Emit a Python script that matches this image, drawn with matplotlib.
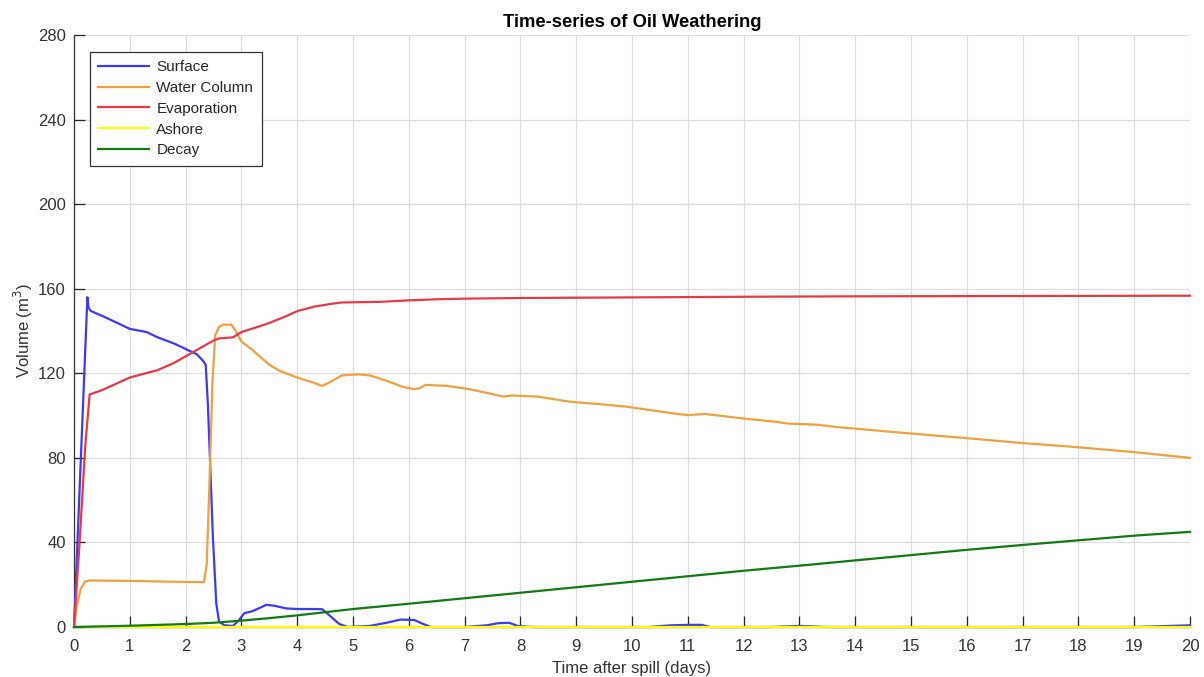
import matplotlib
matplotlib.use("Agg")
import matplotlib.pyplot as plt

plt.rcParams['font.family'] = ['Liberation Sans', 'DejaVu Sans']

# ---- data ----
t_surface = [0, 0.1, 0.2, 0.24, 0.26, 0.3, 0.6, 1.0, 1.3, 1.5, 1.8, 2.0, 2.2, 2.31, 2.36, 2.4, 2.49,
             2.55, 2.6, 2.7, 2.85, 2.95, 3.05, 3.2, 3.45, 3.6, 3.8, 4.0, 4.3, 4.45, 4.6, 4.75, 4.9,
             5.3, 5.6, 5.85, 6.1, 6.25, 6.4, 7.0, 7.4, 7.6, 7.8, 7.95, 8.2, 10.3, 10.7, 11.0, 11.25,
             11.4, 12.5, 13.0, 13.5, 19.0, 19.5, 20]
v_surface = [0, 65, 130, 156, 151, 149.5, 146, 141, 139.5, 137, 134, 131.5, 129, 126, 124, 105, 42,
             11, 2.4, 0.8, 0.5, 3, 6.5, 7.5, 10.5, 10, 8.8, 8.5, 8.5, 8.4, 5, 1.5, 0,
             0.5, 2, 3.5, 3.3, 1.5, 0, 0, 0.8, 1.8, 2, 0.5, 0, 0, 0.8, 1, 1,
             0, 0, 0.5, 0, 0, 0.4, 0.8]

t_water = [0, 0.05, 0.12, 0.2, 0.28, 1.0, 2.0, 2.33, 2.38, 2.43, 2.48, 2.53, 2.6, 2.68, 2.82, 2.9,
           3.0, 3.2, 3.5, 3.7, 4.0, 4.3, 4.45, 4.6, 4.8, 5.1, 5.3, 5.6, 5.9, 6.1, 6.2, 6.3, 6.7,
           7.1, 7.7, 7.85, 8.3, 8.9, 9.6, 9.9, 10.8, 11.0, 11.3, 12.0, 12.6, 12.8, 13.3, 13.7,
           15, 16, 17, 18, 19, 20]
v_water = [0, 10, 18, 21.5, 22, 21.8, 21.3, 21.2, 30, 70, 115, 138, 142, 143, 143, 140,
           135, 131, 124, 121, 118, 115.5, 114, 116, 119, 119.5, 119, 116.5, 113.5, 112.5, 113, 114.5, 114,
           112.4, 109, 109.5, 109, 106.5, 105, 104.2, 100.8, 100.2, 100.8, 98.6, 97, 96.2, 95.7, 94.5,
           91.5, 89.3, 87, 85, 82.7, 80]

t_evap = [0, 0.1, 0.2, 0.28, 0.5, 1.0, 1.5, 1.8, 2.0, 2.3, 2.5, 2.6, 2.85, 3.0, 3.3, 3.5, 3.8, 4.0,
          4.3, 4.6, 4.8, 5.5, 6.0, 6.5, 7, 8, 10, 12, 14, 16, 18, 20]
v_evap = [0, 40, 85, 110, 112, 118, 121.5, 125, 128, 132.5, 135.5, 136.5, 137, 139.5, 142, 143.8,
          147, 149.4, 151.5, 152.8, 153.5, 153.8, 154.5, 155, 155.3, 155.6, 155.9, 156.2, 156.4,
          156.5, 156.6, 156.7]

t_ashore = [0, 20]
v_ashore = [0, 0]

t_decay = [0, 1, 2, 2.5, 3, 3.5, 4, 5, 6, 7, 8, 9, 10, 11, 12, 13, 14, 15, 16, 17, 18, 19, 20]
v_decay = [0, 0.6, 1.4, 2, 3, 4.2, 5.5, 8.5, 11, 13.6, 16.2, 18.8, 21.4, 24, 26.6, 29, 31.5, 34,
           36.5, 38.8, 41, 43.2, 45]

series_labels = ['Surface', 'Water Column', 'Evaporation', 'Ashore', 'Decay']
x_ticks = list(range(0, 21))
y_ticks = list(range(0, 281, 40))

# ---- figure ----
fig = plt.figure(figsize=(12.04, 6.77), dpi=100)
ax = fig.add_axes([74 / 1204, 1 - 627 / 677, (1190 - 74) / 1204, (627 - 35) / 677])

txt = '#262626'
lw = 1.6
common = dict(lw=lw, zorder=3, clip_on=False)
ax.plot(t_surface, v_surface, color='#3b3bf5', label=series_labels[0], **common)
ax.plot(t_water, v_water, color='#f0a040', label=series_labels[1], **common)
ax.plot(t_evap, v_evap, color='#e93848', label=series_labels[2], **common)
ax.plot(t_ashore, v_ashore, color='#ffff00', label=series_labels[3], **common)
ax.plot(t_decay, v_decay, color='#127a12', label=series_labels[4], **common)

ax.set_xlim(0, 20)
ax.set_ylim(0, 280)
ax.set_xticks(x_ticks)
ax.set_yticks(y_ticks)
ax.tick_params(direction='in', length=8, width=0.9, colors=txt, labelsize=12, labelcolor='#333333')
ax.tick_params(axis='x', pad=8.5)
ax.tick_params(axis='y', pad=6)
ax.grid(True, color='#dedede', lw=0.9)
ax.set_axisbelow(True)
for s in ['top', 'right']:
    ax.spines[s].set_visible(False)
for s in ['left', 'bottom']:
    ax.spines[s].set_color('#333333')
    ax.spines[s].set_linewidth(0.9)

ax.set_title('Time-series of Oil Weathering', fontsize=13.2, fontweight='bold', color='black', pad=6)
ax.set_xlabel('Time after spill (days)', fontsize=12, color='#333333', labelpad=5)
ax.set_ylabel('Volume (m$^3$)', fontsize=12, color='#333333', labelpad=2)

leg = ax.legend(loc='upper left', bbox_to_anchor=(0.0143, 0.972), fontsize=11, frameon=True,
                fancybox=False, framealpha=1, edgecolor='#333333', handlelength=3.3,
                borderpad=0.55, labelspacing=0.45, handletextpad=0.5, borderaxespad=0)
leg.get_frame().set_linewidth(0.9)
leg.set_zorder(5)
for t in leg.get_texts():
    t.set_color('#262626')

fig.savefig('out.png', dpi=100)
